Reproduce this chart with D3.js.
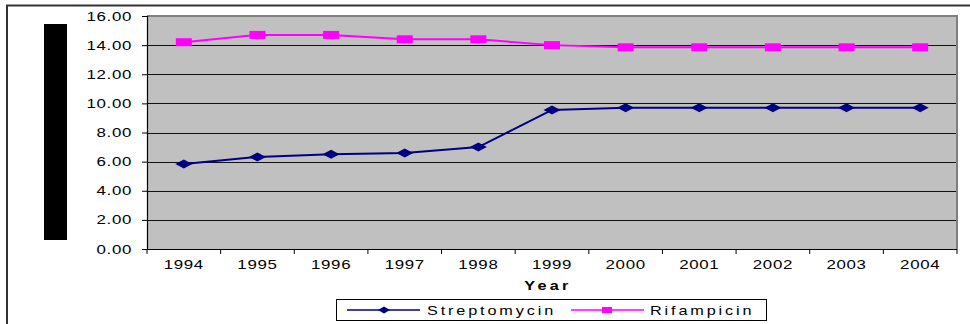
<!DOCTYPE html>
<html>
<head>
<meta charset="utf-8">
<script src="https://cdn.jsdelivr.net/npm/d3@7"></script>
<style>
  html, body { margin: 0; padding: 0; background: #fff; }
  svg { display: block; font-family: "Liberation Sans", Arial, sans-serif; }
</style>
</head>
<body>
<svg id="chart" width="970" height="324"></svg>
<script>
// Resistance by year, two drugs
const years = ["1994", "1995", "1996", "1997", "1998", "1999", "2000", "2001", "2002", "2003", "2004"];
const streptomycin = [5.84, 6.32, 6.50, 6.59, 7.00, 9.55, 9.70, 9.70, 9.70, 9.70, 9.70];
const rifampicin = [14.20, 14.70, 14.70, 14.40, 14.40, 14.00, 13.85, 13.85, 13.85, 13.85, 13.85];
const yTicks = [0, 2, 4, 6, 8, 10, 12, 14, 16];
const seriesNames = ["Streptomycin", "Rifampicin"];

const svg = d3.select("#chart");
const plot = { left: 147, right: 957, top: 16, bottom: 249 };

const x = d3.scaleBand().domain(years).range([plot.left, plot.right]).padding(0);
const y = d3.scaleLinear().domain([0, 16]).range([plot.bottom, plot.top]);

// stretched text helper: anchor at (px,py), scaled horizontally
function stretchedText(parent, px, py, str, opts) {
  const g = parent.append("g")
    .attr("transform", `translate(${px},${py}) scale(${opts.sx},1)`);
  return g.append("text")
    .attr("x", 0).attr("y", 0)
    .attr("text-anchor", opts.anchor || "start")
    .attr("font-size", opts.size || 12)
    .attr("font-weight", opts.weight || "normal")
    .attr("letter-spacing", opts.ls || 0)
    .attr("fill", "#000")
    .text(str);
}

// outer frame (left and top edges)
svg.append("path")
  .attr("d", "M7,324 V5.5 H970")
  .attr("fill", "none").attr("stroke", "#333").attr("stroke-width", 2);

// block left of the value axis
svg.append("rect")
  .attr("x", 44).attr("y", 24).attr("width", 23).attr("height", 216)
  .attr("fill", "#000");

// plot background
svg.append("rect")
  .attr("x", plot.left).attr("y", plot.top)
  .attr("width", plot.right - plot.left).attr("height", plot.bottom - plot.top)
  .attr("fill", "#c0c0c0");

// horizontal gridlines
svg.append("g").selectAll("line")
  .data(yTicks.filter(d => d > 0 && d < 16))
  .join("line")
  .attr("x1", plot.left).attr("x2", plot.right)
  .attr("y1", d => Math.round(y(d)) + 0.5).attr("y2", d => Math.round(y(d)) + 0.5)
  .attr("stroke", "#111").attr("stroke-width", 1);

// plot frame top and right
svg.append("path")
  .attr("d", `M${plot.left},${plot.top} H${plot.right} V${plot.bottom}`)
  .attr("fill", "none").attr("stroke", "#808080").attr("stroke-width", 2);

// y axis
const yAxis = d3.axisLeft(y).tickValues(yTicks).tickSize(5).tickFormat("");
const gy = svg.append("g").attr("transform", `translate(${plot.left},0)`).call(yAxis);
gy.select(".domain").attr("stroke", "#000").attr("stroke-width", 1.2);
gy.selectAll(".tick line").attr("stroke", "#000");
yTicks.forEach(v => {
  stretchedText(svg, 132, y(v) + 4.5, d3.format(".2f")(v), { sx: 1.35, anchor: "end", size: 12.5, ls: 0.5 });
});

// x axis: ticks on category boundaries
const boundaries = years.map(d => x(d)).concat([plot.right]);
svg.append("line")
  .attr("x1", plot.left).attr("x2", plot.right)
  .attr("y1", plot.bottom + 0.5).attr("y2", plot.bottom + 0.5)
  .attr("stroke", "#000").attr("stroke-width", 1.2);
svg.append("g").selectAll("line")
  .data(boundaries)
  .join("line")
  .attr("x1", d => d).attr("x2", d => d)
  .attr("y1", plot.bottom).attr("y2", plot.bottom + 5)
  .attr("stroke", "#000");
years.forEach(yr => {
  stretchedText(svg, x(yr) + x.bandwidth() / 2, 269, yr, { sx: 1.35, anchor: "middle", size: 12.5, ls: 0.5 });
});

// axis title
stretchedText(svg, 548, 290, "Year", { sx: 1.3, anchor: "middle", size: 12.5, weight: "bold", ls: 2.5 });

// series
const cx = d => x(d) + x.bandwidth() / 2;
const line = d3.line().x((d, i) => cx(years[i])).y(d => y(d));

const diamond = (w, h) => `M${-w / 2},0 L0,${-h / 2} L${w / 2},0 L0,${h / 2} Z`;

svg.append("path").datum(streptomycin)
  .attr("d", line).attr("fill", "none").attr("stroke", "#000080").attr("stroke-width", 2);
svg.append("g").selectAll("path")
  .data(streptomycin)
  .join("path")
  .attr("transform", (d, i) => `translate(${cx(years[i])},${y(d)})`)
  .attr("d", diamond(17, 9))
  .attr("fill", "#000080");

svg.append("path").datum(rifampicin)
  .attr("d", line).attr("fill", "none").attr("stroke", "#ff00ff").attr("stroke-width", 2);
svg.append("g").selectAll("rect")
  .data(rifampicin)
  .join("rect")
  .attr("x", (d, i) => cx(years[i]) - 8).attr("y", d => y(d) - 4)
  .attr("width", 16).attr("height", 8)
  .attr("fill", "#ff00ff");

// legend
const legend = svg.append("g");
legend.append("rect")
  .attr("x", 336.5).attr("y", 299.5).attr("width", 430).attr("height", 21)
  .attr("fill", "#fff").attr("stroke", "#000").attr("stroke-width", 1);

legend.append("line").attr("x1", 347).attr("x2", 420).attr("y1", 310).attr("y2", 310)
  .attr("stroke", "#000080").attr("stroke-width", 1.5);
legend.append("path").attr("transform", "translate(384,310)").attr("d", diamond(12, 7)).attr("fill", "#000080");
stretchedText(legend, 427, 314.5, seriesNames[0], { sx: 1.3, size: 12.5, ls: 2.2 });

legend.append("line").attr("x1", 571).attr("x2", 644).attr("y1", 310).attr("y2", 310)
  .attr("stroke", "#ff00ff").attr("stroke-width", 1.5);
legend.append("rect").attr("x", 602).attr("y", 307).attr("width", 10).attr("height", 6).attr("fill", "#ff00ff");
stretchedText(legend, 650, 314.5, seriesNames[1], { sx: 1.3, size: 12.5, ls: 2.2 });
</script>
</body>
</html>
